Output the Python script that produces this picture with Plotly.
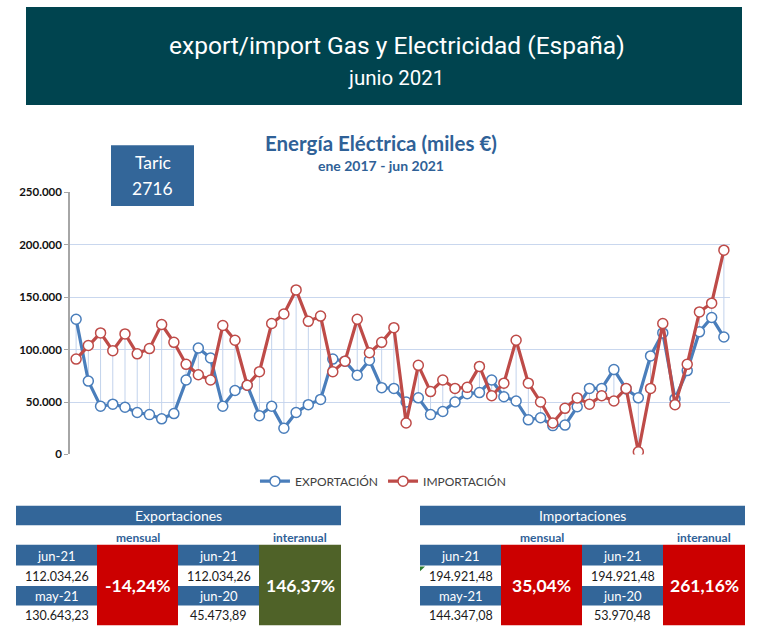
import plotly.graph_objects as go

W, H = 769, 641

# ---------------- data ----------------
months = ["ene-17","feb-17","mar-17","abr-17","may-17","jun-17","jul-17","ago-17","sep-17","oct-17","nov-17","dic-17",
          "ene-18","feb-18","mar-18","abr-18","may-18","jun-18","jul-18","ago-18","sep-18","oct-18","nov-18","dic-18",
          "ene-19","feb-19","mar-19","abr-19","may-19","jun-19","jul-19","ago-19","sep-19","oct-19","nov-19","dic-19",
          "ene-20","feb-20","mar-20","abr-20","may-20","jun-20","jul-20","ago-20","sep-20","oct-20","nov-20","dic-20",
          "ene-21","feb-21","mar-21","abr-21","may-21","jun-21"]

exportacion = [129000, 70000, 46000, 48000, 45000, 40000, 38000, 34000, 39000, 71000, 101500, 92000,
               46000, 61000, 66000, 37000, 46000, 25000, 40000, 47500, 52500, 91000, 89000, 75600,
               90000, 63700, 63000, 50000, 54000, 38000, 41000, 50000, 58000, 59000, 71000, 55000,
               51000, 33000, 35000, 27500, 28000, 45474, 63000, 63000, 81000, 62500, 54000, 94000,
               116000, 53000, 80000, 117000, 130643, 112034]

importacion = [91000, 104000, 116000, 99000, 115000, 96000, 101000, 124000, 107000, 86000, 76000, 71000,
               123000, 109000, 66000, 79000, 125000, 134000, 157000, 127000, 132000, 79000, 89000, 129000,
               97000, 107000, 121000, 30000, 85000, 60000, 71000, 63000, 64000, 84000, 56000, 68000,
               109000, 68000, 50000, 30000, 44000, 53970, 48000, 56000, 51000, 63000, 2500, 63000,
               125000, 47500, 86000, 136000, 144347, 194921]

y_tickvals = [0, 50000, 100000, 150000, 200000, 250000]
y_ticktext = ["0", "50.000", "100.000", "150.000", "200.000", "250.000"]

series_names = ["EXPORTACIÓN", "IMPORTACIÓN"]

header_title = "export/import Gas y Electricidad (España)"
header_sub = "junio 2021"
chart_title = "Energía Eléctrica (miles €)"
chart_sub = "ene 2017 - jun 2021"
taric_lines = ["Taric", "2716"]

exp_table_title = "Exportaciones"
exp_m_labels = ["jun-21", "may-21"]
exp_m_values = ["112.034,26", "130.643,23"]
exp_mensual = "-14,24%"
exp_i_labels = ["jun-21", "jun-20"]
exp_i_values = ["112.034,26", "45.473,89"]
exp_interanual = "146,37%"

imp_table_title = "Importaciones"
imp_m_labels = ["jun-21", "may-21"]
imp_m_values = ["194.921,48", "144.347,08"]
imp_mensual = "35,04%"
imp_i_labels = ["jun-21", "jun-20"]
imp_i_values = ["194.921,48", "53.970,48"]
imp_interanual = "261,16%"

# ---------------- styles ----------------
BLUE = "#4a7ebb"
RED = "#be4b48"
DROP = "#c3d3ec"
GRID = "#c9d7ee"
HEADER = "#00444f"
CELL = "#336699"
TITLEC = "#2f6197"
REDBOX = "#cc0000"
GREENBOX = "#4f6228"
FONT = "Lato, 'Open Sans', sans-serif"


def px(x):
    return x / W


def py(y):
    return 1 - y / H


x_idx = list(range(len(months)))

fig = go.Figure()

# drop lines (high-low lines)
dx, dy = [], []
for i, (e, m) in enumerate(zip(exportacion, importacion)):
    dx += [i, i, None]
    dy += [min(e, m), max(e, m), None]
fig.add_trace(go.Scatter(x=dx, y=dy, mode="lines", line=dict(color=DROP, width=1),
                         hoverinfo="skip", showlegend=False))

for name, vals, col in [(series_names[0], exportacion, BLUE), (series_names[1], importacion, RED)]:
    fig.add_trace(go.Scatter(
        x=x_idx, y=vals, name=name, mode="lines+markers",
        line=dict(color=col, width=3.2),
        marker=dict(symbol="circle", size=10, color="white", line=dict(color=col, width=1.5)),
        customdata=months, hovertemplate="%{customdata}: %{y}<extra>" + name + "</extra>",
    ))

shapes = []
annotations = []


def rect(x0, y0, x1, y1, fill, line=None):
    shapes.append(dict(type="rect", xref="paper", yref="paper",
                       x0=px(x0), x1=px(x1), y0=py(y1), y1=py(y0),
                       fillcolor=fill, line=dict(width=1 if line else 0, color=line or fill),
                       layer="above"))


def text(x, y, s, size, color, bold=False, family=FONT):
    annotations.append(dict(xref="paper", yref="paper", x=px(x), y=py(y),
                            xanchor="center", yanchor="middle", showarrow=False,
                            text=("<b>%s</b>" % s) if bold else s,
                            font=dict(size=size, color=color, family=family)))


# header
rect(26, 0, 742, 100, HEADER)
text(397, 39, header_title, 24.5, "white", family="Roboto")
text(396, 72, header_sub, 20.5, "white", family="Roboto")

# chart titles
text(381, 139, chart_title, 20.5, TITLEC, bold=True)
text(381, 162, chart_sub, 14, TITLEC, bold=True)

# taric box
rect(111, 141, 194, 203, CELL)
text(152.5, 159, taric_lines[0], 17.5, "white")
text(152.5, 185, taric_lines[1], 17.5, "white")


def table(x0, title, m_labels, m_values, mensual, i_labels, i_values, interanual, ia_color):
    cw = [81, 81, 81, 82]
    xs = [x0, x0 + cw[0], x0 + cw[0] + cw[1], x0 + cw[0] + cw[1] + cw[2], x0 + sum(cw)]
    rect(xs[0], 509, xs[4], 529, CELL)
    text((xs[0] + xs[4]) / 2, 519.5, title, 14, "white")
    text((xs[1] + xs[2]) / 2, 541.5, "mensual", 12, TITLEC, bold=True)
    text((xs[3] + xs[4]) / 2, 541.5, "interanual", 12, TITLEC, bold=True)
    rows = [(549, 570), (570, 591), (591, 611), (611, 631)]
    for col, labels, values in [(0, m_labels, m_values), (2, i_labels, i_values)]:
        for k in range(2):
            ly0, ly1 = rows[2 * k]
            vy0, vy1 = rows[2 * k + 1]
            rect(xs[col], ly0, xs[col + 1], ly1, CELL)
            text((xs[col] + xs[col + 1]) / 2, (ly0 + ly1) / 2 + 0.5, labels[k], 13, "white")
            text((xs[col] + xs[col + 1]) / 2, (vy0 + vy1) / 2 + 0.5, values[k], 12.5, "#1a1a1a")
    rect(xs[1], 549, xs[2], 631, REDBOX)
    text((xs[1] + xs[2]) / 2, 590, mensual, 17.5, "white", bold=True)
    rect(xs[3], 549, xs[4], 631, ia_color)
    text((xs[3] + xs[4]) / 2, 590, interanual, 17.5, "white", bold=True)


table(16, exp_table_title, exp_m_labels, exp_m_values, exp_mensual,
      exp_i_labels, exp_i_values, exp_interanual, GREENBOX)
table(420, imp_table_title, imp_m_labels, imp_m_values, imp_mensual,
      imp_i_labels, imp_i_values, imp_interanual, REDBOX)

# small comment indicator triangle
shapes.append(dict(type="path", xref="paper", yref="paper",
                   path="M %f %f L %f %f L %f %f Z" % (px(420), py(571), px(425), py(571), px(420), py(576)),
                   fillcolor="#2e7d32", line=dict(width=0), layer="above"))

fig.update_layout(
    width=W, height=H,
    margin=dict(l=0, r=0, t=0, b=0),
    paper_bgcolor="white", plot_bgcolor="white",
    font=dict(family=FONT, color="#222"),
    xaxis=dict(domain=[px(70), px(730)], range=[-0.5, len(months) - 0.5],
               showticklabels=False, showgrid=False, zeroline=False, showline=False, ticks=""),
    yaxis=dict(domain=[py(456.7), py(189.3)], range=[0, 250000],
               tickvals=y_tickvals, ticktext=y_ticktext,
               tickfont=dict(size=11.5, color="#111", family=FONT, weight="bold"),
               showgrid=True, gridcolor=GRID, gridwidth=1.2,
               zeroline=False, showline=True, linecolor="#a6a6a6", linewidth=1.5,
               ticks="outside", ticklen=4, tickcolor="#a6a6a6"),
    legend=dict(orientation="h", x=0.498, xanchor="center", y=py(484), yanchor="middle",
                font=dict(size=12, color="#404040", family=FONT), itemwidth=30,
                bgcolor="rgba(0,0,0,0)"),
    shapes=shapes, annotations=annotations,
    showlegend=True,
)

fig.write_html("out.html", config={"displayModeBar": False},
               post_script="document.body.style.margin='0';document.body.style.overflow='hidden';")
